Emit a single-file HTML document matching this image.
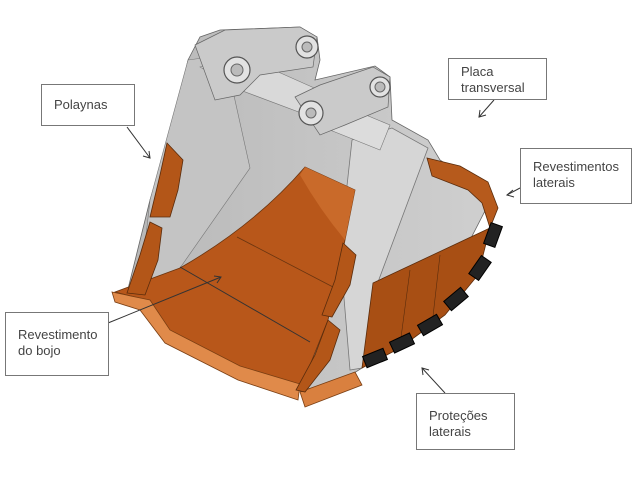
<!DOCTYPE html>
<html><head><meta charset="utf-8"><style>
body{margin:0;background:#fff;width:640px;height:480px;overflow:hidden;position:relative;font-family:"Liberation Sans",sans-serif}
.b{position:absolute;border:1px solid #777;background:#fff;font-size:13px;color:#444;line-height:16px;box-sizing:border-box;padding:9px 0 0 12px}
svg{position:absolute;left:0;top:0}
</style></head><body>
<svg width="640" height="480" viewBox="0 0 640 480">
<defs>
<linearGradient id="g" x1="0" x2="1"><stop offset="0" stop-color="#b8b8b8"/><stop offset="1" stop-color="#cfcfcf"/></linearGradient>
</defs>
<polygon points="188,60 200,37 220,30 300,27 317,37 320,60 315,80 375,66 390,77 392,120 428,140 440,160 470,180 488,205 470,240 440,270 385,295 362,368 335,385 300,390 180,268 127,293 150,200 175,120" fill="url(#g)" stroke="#666" stroke-width="0.8"/>
<polygon points="188,60 225,55 250,168 180,268 140,290 150,200" fill="#c4c4c4" stroke="#777" stroke-width="0.6"/>
<polygon points="352,140 392,128 428,148 375,290 362,368 350,370 340,250" fill="#d6d6d6" stroke="#777" stroke-width="0.8"/>
<polygon points="200,67 240,55 330,95 320,120 240,90" fill="#d9d9d9" stroke="#777" stroke-width="0.6"/>
<polygon points="310,115 330,100 390,125 380,150 330,130" fill="#dcdcdc" stroke="#777" stroke-width="0.6"/>
<polygon points="195,45 225,30 300,27 317,37 313,67 260,75 240,95 215,100" fill="#cacaca" stroke="#666" stroke-width="0.7"/>
<polygon points="295,97 320,85 373,67 390,77 388,107 345,125 320,135" fill="#cacaca" stroke="#666" stroke-width="0.7"/>
<g fill="#e2e2e2" stroke="#555" stroke-width="1.2">
<circle cx="237" cy="70" r="13"/><circle cx="307" cy="47" r="11"/><circle cx="311" cy="113" r="12"/><circle cx="380" cy="87" r="10"/>
</g>
<g fill="#bbb" stroke="#666"><circle cx="237" cy="70" r="6"/><circle cx="307" cy="47" r="5"/><circle cx="311" cy="113" r="5"/><circle cx="380" cy="87" r="5"/></g>
<path d="M115,292 L180,268 Q255,225 305,167 L355,190 L343,250 L328,320 L300,390 L240,372 L170,336 L150,301 Z" fill="#b8571a" stroke="#6a3510" stroke-width="0.8"/>
<path d="M305,167 L355,190 L345,240 Q320,210 300,175 Z" fill="#c96a2a"/>
<line x1="180" y1="267" x2="310" y2="342" stroke="#333" stroke-width="1"/>
<line x1="237" y1="237" x2="333" y2="287" stroke="#6a3510" stroke-width="0.8"/>
<path d="M112,292 L150,300 L170,330 L240,366 L300,384 L298,400 L238,380 L165,343 L140,310 L115,302 Z" fill="#e08a4a" stroke="#7a3e12" stroke-width="0.8"/>
<polygon points="300,392 355,372 362,385 305,407" fill="#d9803f" stroke="#7a3e12" stroke-width="0.8"/>
<polygon points="373,283 490,228 478,275 445,315 400,348 362,368" fill="#a84f14" stroke="#5a2c0c" stroke-width="0.8"/>
<polygon points="427,158 460,166 488,182 498,208 490,228 482,203 468,190 432,176" fill="#b65a1c" stroke="#5a2c0c" stroke-width="0.8"/>
<line x1="410" y1="270" x2="400" y2="345" stroke="#5a2c0c" stroke-width="0.6"/>
<line x1="440" y1="255" x2="432" y2="325" stroke="#5a2c0c" stroke-width="0.6"/>
<g fill="#222" stroke="#000">
<rect x="487" y="224" width="12" height="22" transform="rotate(20 493 235)"/>
<rect x="474" y="257" width="12" height="22" transform="rotate(35 480 268)"/>
<rect x="450" y="288" width="12" height="22" transform="rotate(50 456 299)"/>
<rect x="424" y="314" width="12" height="22" transform="rotate(60 430 325)"/>
<rect x="396" y="332" width="12" height="22" transform="rotate(65 402 343)"/>
<rect x="369" y="347" width="12" height="22" transform="rotate(68 375 358)"/>
</g>
<g fill="#b35618" stroke="#5a2c0c" stroke-width="0.8">
<polygon points="167,143 183,160 178,190 170,217 150,217 160,175"/>
<polygon points="150,222 162,228 158,260 145,295 127,293 140,255"/>
<polygon points="343,243 356,255 350,285 332,317 322,315 335,280"/>
<polygon points="328,320 340,330 330,360 305,392 296,390 315,355"/>
</g>
<g stroke="#333" stroke-width="1" fill="none">
<line x1="127" y1="127" x2="150" y2="158"/><polyline points="143,156 150,158 149,151"/>
<line x1="494" y1="100" x2="479" y2="117"/><polyline points="480,110 479,117 486,115"/>
<line x1="520" y1="188" x2="507" y2="195"/><polyline points="513,190 507,195 514,197"/>
<line x1="108" y1="323" x2="221" y2="277"/><polyline points="214,276 221,277 217,283"/>
<line x1="445" y1="393" x2="422" y2="368"/><polyline points="423,375 422,368 429,370"/>
</g>
</svg>
<div class="b" style="left:41px;top:84px;width:94px;height:42px;padding-top:12px">Polaynas</div>
<div class="b" style="left:448px;top:58px;width:99px;height:42px;padding-top:5px">Placa<br>transversal</div>
<div class="b" style="left:520px;top:148px;width:112px;height:56px;padding-top:10px">Revestimentos<br>laterais</div>
<div class="b" style="left:5px;top:312px;width:104px;height:64px;padding-top:14px">Revestimento<br>do bojo</div>
<div class="b" style="left:416px;top:393px;width:99px;height:57px;padding-top:14px">Proteções<br>laterais</div>
</body></html>
